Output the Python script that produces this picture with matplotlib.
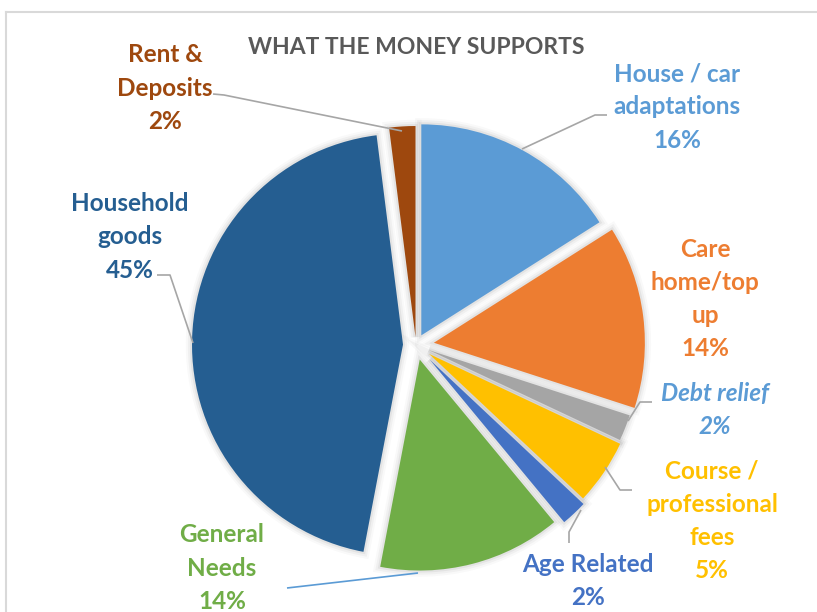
import matplotlib.pyplot as plt
import matplotlib.patches as mpatches

# data
categories = ['House / car\nadaptations', 'Care\nhome/top\nup', 'Debt relief',
              'Course /\nprofessional\nfees', 'Age Related', 'General\nNeeds',
              'Household\ngoods', 'Rent &\nDeposits']
shares = [16, 14, 2, 5, 2, 14, 45, 2]
colors = ['#5B9BD5', '#ED7D31', '#A5A5A5', '#FFC000', '#4472C4', '#70AD47',
          '#255E91', '#9E480E']
label_colors = ['#5B9BD5', '#ED7D31', '#5B9BD5', '#FFC000', '#4472C4', '#70AD47',
                '#255E91', '#9E480E']

W, H = 817, 612

# layout (pixel coords, y measured from the top)
center = (416, 345)
radius = 211
explode = [11, 18, 14, 16, 20, 15, 13, 8]
label_pos = [(677, 107), (705, 299), (715, 410), (712, 521), (588, 581),
             (222, 568), (130, 237), (165, 88)]
leaders = [
    [(607, 115), (595, 115), (522, 149)],
    None,
    [(652, 402), (640, 402), (628, 421)],
    [(632, 490), (620, 490), (605, 467)],
    [(569, 543), (569, 532), (581, 510)],
    [(287, 588), (418, 573)],
    [(157, 275), (170, 275), (193, 343)],
    [(213, 94), (224, 95), (402, 131)],
]
leader_colors = ['#A6A6A6'] * 5 + ['#5B9BD5'] + ['#A6A6A6'] * 2

plt.rcParams['font.family'] = ['Lato', 'DejaVu Sans']

fig = plt.figure(figsize=(W / 100, H / 100), dpi=100)
ax = fig.add_axes([0, 0, 1, 1])

wedges, _ = ax.pie(shares, colors=colors, startangle=90, counterclock=False,
                   center=(center[0], H - center[1]), radius=radius,
                   explode=explode, frame=True)

# soft shadow behind each slice
for w in wedges:
    w.set_zorder(3)
    for lw, a in [(9, 0.025), (6, 0.035), (3, 0.05)]:
        sh = mpatches.Wedge(w.center, w.r, w.theta1, w.theta2, facecolor='none',
                            edgecolor='#000000', linewidth=lw, alpha=a, zorder=2)
        ax.add_patch(sh)

for i, (x, y) in enumerate(label_pos):
    txt = categories[i] + '\n' + '{}%'.format(shares[i])
    style = 'italic' if categories[i] == 'Debt relief' else 'normal'
    ax.text(x, H - y, txt, ha='center', va='center', color=label_colors[i],
            fontsize=17.5, fontweight='bold', fontstyle=style, linespacing=1.53,
            zorder=5)

for pts, c in zip(leaders, leader_colors):
    if pts is None:
        continue
    ax.plot([p[0] for p in pts], [H - p[1] for p in pts], color=c, lw=1.2,
            zorder=4, solid_capstyle='butt')

ax.text(416, H - 48, 'WHAT THE MONEY SUPPORTS', ha='center', va='center',
        color='#595959', fontsize=16.5, fontweight='bold')

# chart border (partly off canvas)
ax.plot([6, W + 5], [H - 12, H - 12], color='#D9D9D9', lw=1.5, zorder=1)
ax.plot([6, 6], [H - 12, -5], color='#D9D9D9', lw=1.5, zorder=1)

ax.set_xlim(0, W)
ax.set_ylim(0, H)
ax.set_aspect('auto')
ax.axis('off')

plt.savefig('out.png', dpi=100)
